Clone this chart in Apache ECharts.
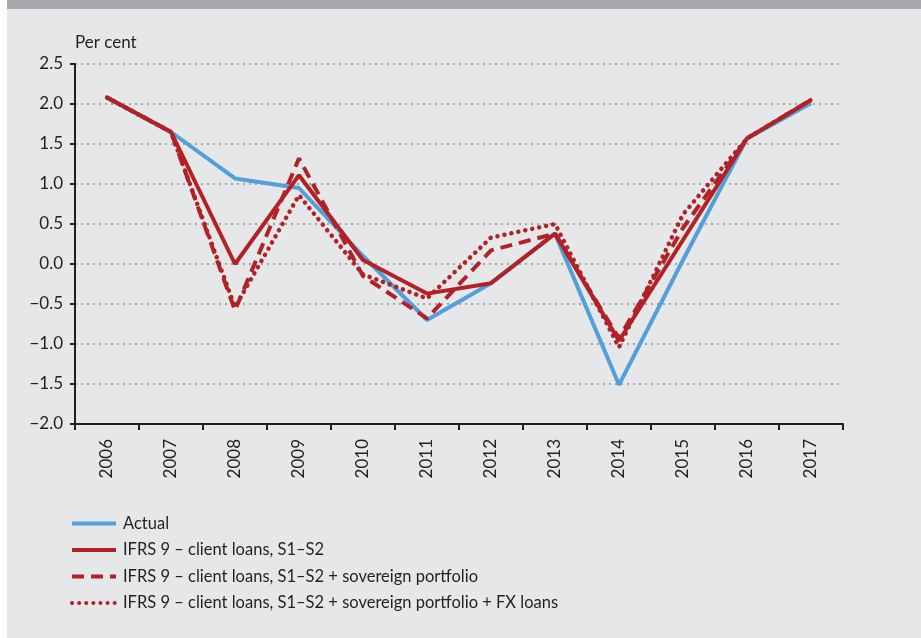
<!DOCTYPE html>
<html>
<head>
<meta charset="utf-8">
<script src="https://cdn.jsdelivr.net/npm/echarts@6/dist/echarts.min.js"></script>
<style>
  html, body { margin: 0; padding: 0; background: #ffffff; }
  #chart { width: 921px; height: 638px; }
</style>
</head>
<body>
<div id="chart"></div>
<script>
const years = ['2006', '2007', '2008', '2009', '2010', '2011', '2012', '2013', '2014', '2015', '2016', '2017'];
const actual = [2.08, 1.65, 1.07, 0.95, 0.10, -0.70, -0.24, 0.38, -1.51, 0.05, 1.57, 2.01];
const clientLoans = [2.08, 1.65, 0.00, 1.11, 0.05, -0.37, -0.24, 0.38, -0.96, 0.30, 1.57, 2.05];
const sovereign = [2.08, 1.65, -0.58, 1.32, -0.15, -0.68, 0.17, 0.38, -0.93, 0.45, 1.57, 2.05];
const fxLoans = [2.08, 1.65, -0.54, 0.86, -0.13, -0.43, 0.33, 0.50, -1.04, 0.62, 1.57, 2.05];
const seriesNames = [
  'Actual',
  'IFRS 9 – client loans, S1–S2',
  'IFRS 9 – client loans, S1–S2 + sovereign portfolio',
  'IFRS 9 – client loans, S1–S2 + sovereign portfolio + FX loans'
];

const blue = '#529fd9';
const red = '#b12126';
const font = 'Lato';

const myChart = echarts.init(document.getElementById('chart'));

const option = {
  backgroundColor: '#e6e7e9',
  animation: false,
  textStyle: { fontFamily: font },
  graphic: [
    { type: 'rect', left: 0, top: 0, shape: { width: 921, height: 9 }, style: { fill: '#a8a9ac' }, z: 100 },
    { type: 'rect', left: 0, top: 0, shape: { width: 7, height: 638 }, style: { fill: '#ffffff' }, z: 101 }
  ],
  title: {
    text: 'Per cent',
    left: 75,
    top: 34,
    padding: 0,
    textStyle: { fontFamily: font, fontSize: 17, fontWeight: 'normal', color: '#231f20' }
  },
  legend: {
    orient: 'vertical',
    left: 70,
    top: 515,
    itemWidth: 44,
    itemHeight: 14,
    itemGap: 9.5,
    padding: 0,
    data: seriesNames,
    itemStyle: { opacity: 0 },
    lineStyle: { width: 4 },
    textStyle: { fontFamily: font, fontSize: 16.5, color: '#231f20', padding: [0, 0, 0, 2] }
  },
  grid: {
    left: 75,
    right: 78,
    top: 64,
    bottom: 214
  },
  xAxis: {
    type: 'category',
    data: years,
    boundaryGap: true,
    axisLine: { onZero: false, lineStyle: { color: '#231f20', width: 2 } },
    axisTick: { show: true, length: 6, lineStyle: { color: '#231f20', width: 2 } },
    axisLabel: { rotate: 90, margin: 15, fontFamily: font, fontSize: 17, color: '#231f20' },
    splitLine: { show: false }
  },
  yAxis: {
    type: 'value',
    min: -2,
    max: 2.5,
    interval: 0.5,
    axisLine: { show: true, lineStyle: { color: '#231f20', width: 2 } },
    axisTick: { show: true, length: 5, lineStyle: { color: '#231f20', width: 2 } },
    axisLabel: {
      margin: 12,
      fontFamily: font,
      fontSize: 17,
      color: '#231f20',
      formatter: function (v) { return v.toFixed(1).replace('-', '\u2212'); }
    },
    splitLine: { show: true, lineStyle: { color: '#8a8a8a', width: 1.5, type: [2, 4] } }
  },
  series: [
    {
      name: seriesNames[0],
      type: 'line',
      data: actual,
      symbol: 'none',
      lineStyle: { color: blue, width: 4 },
      itemStyle: { color: blue },
      z: 2
    },
    {
      name: seriesNames[1],
      type: 'line',
      data: clientLoans,
      symbol: 'none',
      lineStyle: { color: red, width: 4 },
      itemStyle: { color: red },
      z: 5
    },
    {
      name: seriesNames[2],
      type: 'line',
      data: sovereign,
      symbol: 'none',
      lineStyle: { color: red, width: 4, type: [12, 7] },
      itemStyle: { color: red },
      z: 4
    },
    {
      name: seriesNames[3],
      type: 'line',
      data: fxLoans,
      symbol: 'none',
      lineStyle: { color: red, width: 4.5, type: [0.1, 7], cap: 'round' },
      itemStyle: { color: red },
      z: 3
    }
  ]
};

option && myChart.setOption(option);
</script>
</body>
</html>
